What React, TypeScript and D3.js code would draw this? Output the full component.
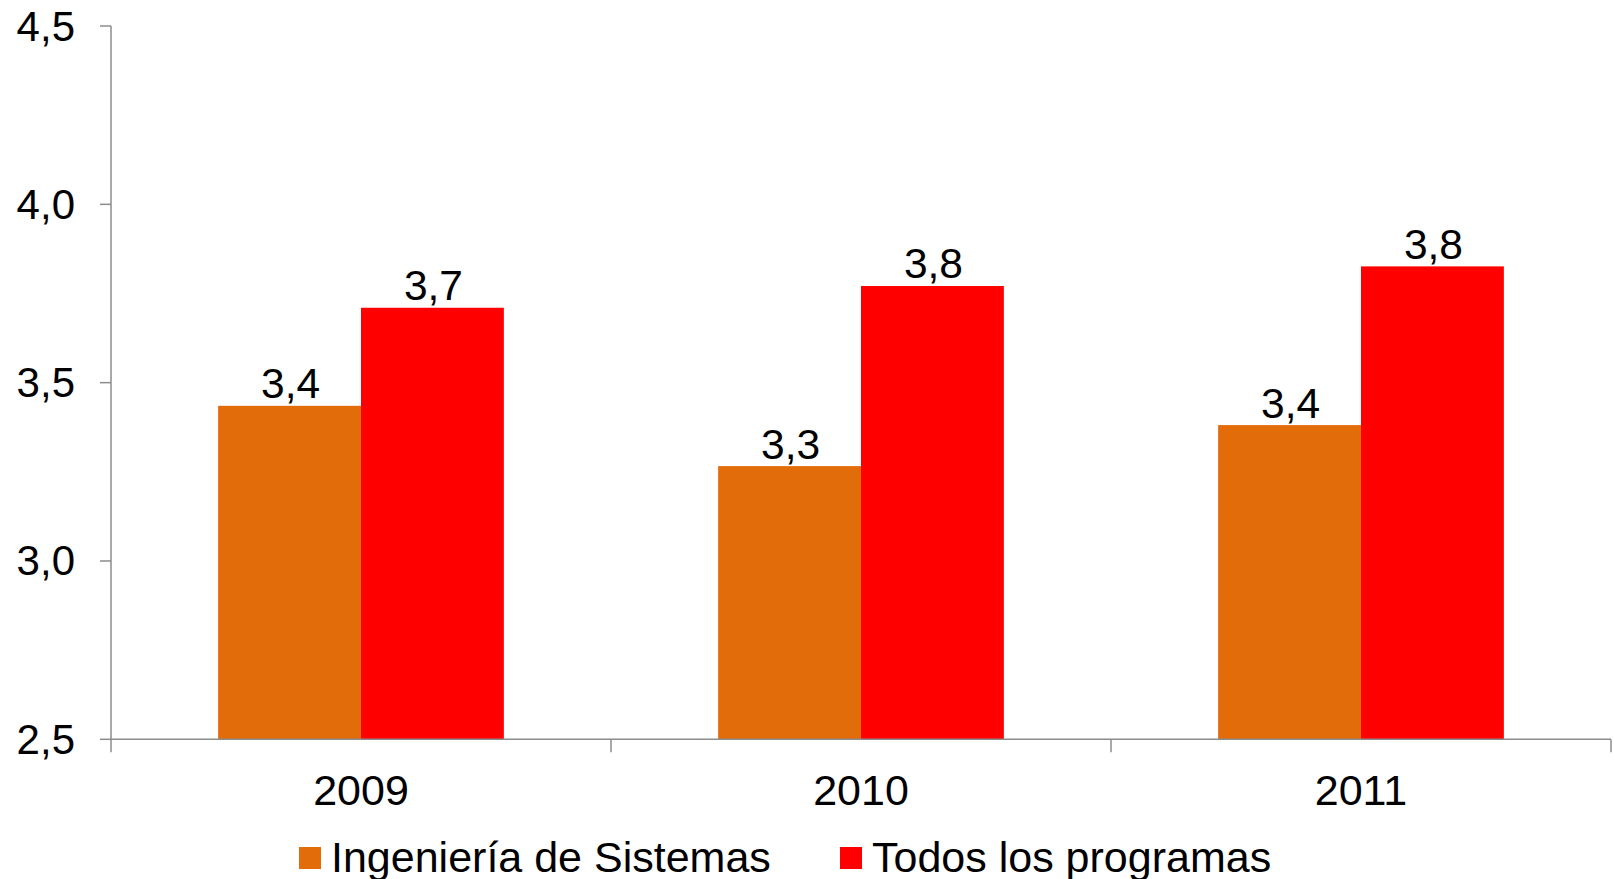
import React from "react";
import * as d3 from "d3";

const categories = ["2009", "2010", "2011"];
const seriesNames = ["Ingeniería de Sistemas", "Todos los programas"];
const ingenieriaValues = [3.435, 3.266, 3.381];
const todosValues = [3.71, 3.771, 3.826];
const yTicks = [2.5, 3.0, 3.5, 4.0, 4.5];
const seriesColors = ["#E36C0A", "#FF0000"];

const W = 1614;
const H = 879;
const FONT = "'Liberation Sans', Arial, sans-serif";
const AXIS = "#8C8C8C";

export default function App() {
  const x0 = d3.scaleBand<string>().domain(categories).range([111, 1611]).paddingInner(0).paddingOuter(0);
  const x1 = d3
    .scaleBand<string>()
    .domain(seriesNames)
    .range([0, x0.bandwidth()])
    .paddingInner(0)
    .paddingOuter(0.75);
  const y = d3.scaleLinear().domain([2.5, 4.5]).range([739.3, 26]);
  const fmt = (v: number) => v.toFixed(1).replace(".", ",");
  const seriesData = [ingenieriaValues, todosValues];
  const xTickPositions = [...categories.map((c) => x0(c)!), x0.range()[1]];
  const legendX = [299, 840];

  return (
    <svg
      width={W}
      height={H}
      style={{ position: "absolute", left: 0, top: 0, background: "#fff" }}
      fontFamily={FONT}
    >
      {/* bars */}
      {categories.map((c, ci) =>
        seriesNames.map((s, si) => {
          const v = seriesData[si][ci];
          const bx = x0(c)! + x1(s)!;
          return (
            <g key={c + s}>
              <rect
                x={bx}
                y={y(v)}
                width={x1.bandwidth()}
                height={y(2.5) - y(v)}
                fill={seriesColors[si]}
              />
              <text
                x={bx + x1.bandwidth() / 2 + 1}
                y={y(v) - 7.5}
                textAnchor="middle"
                fontSize={42.5}
                fill="#000"
              >
                {fmt(v)}
              </text>
            </g>
          );
        })
      )}
      {/* y axis */}
      <line x1={111} x2={111} y1={y(4.5)} y2={y(2.5)} stroke={AXIS} strokeWidth={1.5} />
      {yTicks.map((t) => (
        <g key={t}>
          <line x1={100} x2={111} y1={y(t)} y2={y(t)} stroke={AXIS} strokeWidth={1.5} />
          <text x={75} y={y(t) + 14.5} textAnchor="end" fontSize={42} fill="#000">
            {fmt(t)}
          </text>
        </g>
      ))}
      {/* x axis */}
      <line x1={111} x2={1611} y1={y(2.5)} y2={y(2.5)} stroke={AXIS} strokeWidth={1.5} />
      {xTickPositions.map((p, i) => (
        <line key={i} x1={p} x2={p} y1={y(2.5)} y2={y(2.5) + 13} stroke={AXIS} strokeWidth={1.5} />
      ))}
      {categories.map((c) => (
        <text key={c} x={x0(c)! + x0.bandwidth() / 2} y={805} textAnchor="middle" fontSize={43} fill="#000">
          {c}
        </text>
      ))}
      {/* legend */}
      {seriesNames.map((s, i) => (
        <g key={s}>
          <rect x={legendX[i]} y={847} width={22} height={22} fill={seriesColors[i]} />
          <text x={legendX[i] + 32} y={871.5} fontSize={43} fill="#000">
            {s}
          </text>
        </g>
      ))}
    </svg>
  );
}
